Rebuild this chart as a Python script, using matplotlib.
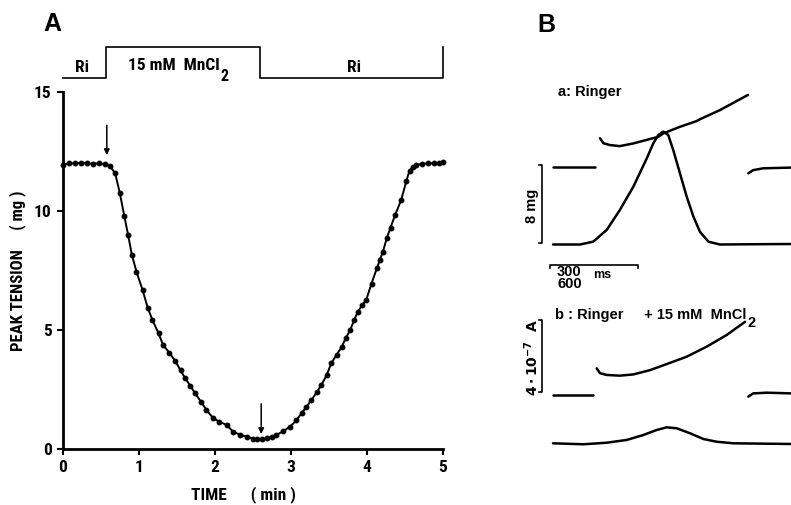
import matplotlib
matplotlib.use("Agg")
import matplotlib.pyplot as plt
from matplotlib import font_manager as fm

# ---------------- data: panel A (peak tension vs time) ----------------
time_min = [0.00, 0.08, 0.16, 0.24, 0.32, 0.40, 0.48, 0.56, 0.62,
            0.69, 0.75, 0.81, 0.86, 0.91, 0.97, 1.05, 1.12, 1.18, 1.26,
            1.32, 1.40, 1.48, 1.55, 1.61, 1.68, 1.74, 1.82, 1.89, 1.98,
            2.06, 2.155, 2.24, 2.33, 2.42, 2.50, 2.55, 2.62, 2.68, 2.75,
            2.81, 2.90, 2.99, 3.07, 3.14, 3.20, 3.27, 3.34, 3.40, 3.47,
            3.53, 3.60, 3.67, 3.72, 3.78, 3.83, 3.88, 3.94, 3.99, 4.06,
            4.13, 4.17, 4.21, 4.26, 4.31, 4.37, 4.45, 4.52, 4.56, 4.60,
            4.65, 4.72, 4.80, 4.88, 4.95, 5.00]
tension_mg = [11.95, 12.00, 12.00, 12.02, 12.00, 11.98, 12.00, 11.97, 11.90,
              11.58, 10.77, 9.79, 8.99, 8.15, 7.45, 6.68, 5.91, 5.42, 4.86,
              4.37, 4.05, 3.70, 3.30, 2.97, 2.65, 2.34, 1.98, 1.64, 1.29,
              1.15, 1.01, 0.73, 0.60, 0.52, 0.44, 0.41, 0.42, 0.45, 0.52,
              0.59, 0.75, 0.94, 1.20, 1.50, 1.75, 2.06, 2.38, 2.69, 3.10,
              3.60, 3.95, 4.30, 4.65, 5.00, 5.40, 5.77, 6.05, 6.26, 6.95,
              7.59, 7.95, 8.29, 8.85, 9.30, 9.83, 10.46, 11.28, 11.70, 11.85,
              11.93, 11.98, 12.00, 12.00, 12.02, 12.05]
x_ticks = [0, 1, 2, 3, 4, 5]
y_ticks = [0, 5, 10, 15]
mn_on, mn_off = 0.57, 2.60          # MnCl2 application (min)
arrow_times = [0.58, 2.61]

# ---------------- data: panel B (records) ----------------
# a: Ringer -- tension (mg above baseline)
fa_t = [0, 92, 137, 183, 228, 274, 320, 342, 359, 376, 393, 410, 433, 456, 479, 501, 530, 569, 700, 811]
fa_v = [0, 0, 0.29, 1.49, 3.54, 5.93, 8.85, 10.38, 11.23, 11.58, 11.23, 9.69, 7.29, 4.90,
        2.85, 1.31, 0.29, 0, 0.03, 0.05]
# a: Ringer -- membrane current (1e-7 A), three pieces
ca_left_t, ca_left_v = [0, 143], [0, 0]
ca_mid_t = [160, 172, 194, 228, 274, 320, 359, 376, 433, 490, 501, 569, 665]
ca_mid_v = [1.59, 1.31, 1.21, 1.15, 1.30, 1.50, 1.67, 1.86, 2.23, 2.55, 2.65, 3.16, 4.01]
ca_right_t, ca_right_v = [666, 683, 717, 811], [-0.37, -0.19, -0.09, -0.05]
# b: Ringer + 15 mM MnCl2 -- tension
fb_t = [0, 104, 183, 251, 308, 353, 388, 422, 468, 513, 558, 615, 811]
fb_v = [0, -0.10, 0.06, 0.34, 0.85, 1.36, 1.64, 1.54, 1.02, 0.44, 0.16, 0, -0.07]
# b: current
cb_left_t, cb_left_v = [0, 136], [0, 0]
cb_mid_t = [149, 160, 183, 228, 274, 331, 388, 456, 524, 592, 655]
cb_mid_v = [1.49, 1.22, 1.12, 1.08, 1.15, 1.39, 1.73, 2.14, 2.70, 3.35, 4.09]
cb_right_t, cb_right_v = [666, 683, 729, 811], [-0.09, 0.09, 0.13, 0.09]

# ---------------- fonts ----------------
names = {f.name for f in fm.fontManager.ttflist}
cond = None
for n in ["Liberation Sans Narrow", "DejaVu Sans Condensed", "Roboto Condensed",
          "Open Sans Condensed", "Noto Sans Condensed"]:
    if n in names:
        cond = n
        break
if cond:
    CK = dict(family=[cond, "DejaVu Sans"], fontweight="bold")
else:
    CK = dict(family=["DejaVu Sans"], fontstretch="condensed", fontweight="bold")
HK = dict(family=["Liberation Sans", "DejaVu Sans"], fontweight="bold")

W, H = 791, 505
fig = plt.figure(figsize=(W / 100, H / 100), dpi=100)


def P(px, py):
    return px / W, 1 - py / H


# ---------------- panel A ----------------
x0, x1, y0, y1 = 62.7, 443.0, 92.0, 449.0
axA = fig.add_axes([x0 / W, 1 - y1 / H, (x1 - x0) / W, (y1 - y0) / H])
axA.plot(time_min, tension_mg, "-o", color="k", lw=1.4, ms=3.2, clip_on=False)
axA.set_xlim(0, 5)
axA.set_ylim(0, 15)
for s in ("top", "right"):
    axA.spines[s].set_visible(False)
for s in ("left", "bottom"):
    axA.spines[s].set_linewidth(2.0)
axA.set_xticks(x_ticks)
axA.set_yticks(y_ticks)
axA.set_xticklabels([str(v) for v in x_ticks], **CK, fontsize=12.5)
axA.set_yticklabels([str(v) for v in y_ticks], **CK, fontsize=12.5)
axA.tick_params(axis="both", direction="out", length=4, width=1.5, pad=4)

# stimulus bar
lo, hi = 15.59, 16.89
axA.plot([0, mn_on, mn_on, mn_off, mn_off, 5, 5], [lo, lo, hi, hi, lo, lo, hi],
         color="k", lw=1.2, clip_on=False)
fig.text(*P(82, 67), "Ri", ha="center", va="center", fontsize=12.5, **CK)
t1 = fig.text(*P(128, 66), "15 mM  MnCl", ha="left", va="center", fontsize=12.5, **CK)
fig.text(*P(354, 67), "Ri", ha="center", va="center", fontsize=12.5, **CK)
axA.annotate("2", xy=(1, 0), xycoords=t1, xytext=(0.5, -2.0), textcoords="offset points",
             ha="left", va="center", fontsize=11.5, annotation_clip=False, **CK)

# arrows
axA.annotate("", xy=(arrow_times[0], 12.35), xytext=(arrow_times[0], 13.6),
             arrowprops=dict(arrowstyle="-|>", color="k", lw=1.1, mutation_scale=8,
                             shrinkA=0, shrinkB=0))
axA.annotate("", xy=(arrow_times[1], 0.63), xytext=(arrow_times[1], 1.9),
             arrowprops=dict(arrowstyle="-|>", color="k", lw=1.1, mutation_scale=8,
                             shrinkA=0, shrinkB=0))

fig.text(*P(18, 271), "PEAK TENSION     ( mg )", rotation=90, ha="center", va="center",
         fontsize=12, **CK)
fig.text(*P(243, 495), "TIME      ( min )", ha="center", va="center", fontsize=12.5, **CK)
fig.text(*P(43, 31), "A", ha="left", va="baseline", fontsize=18, **HK)

# ---------------- panel B ----------------
PX_MS = 3.41      # ms per pixel
PX_MG = 9.75      # pixels per mg
CUR_SCALE = 17.9 / PX_MG   # axis units per 1e-7 A
axB = fig.add_axes([500 / W, 0, 291 / W, 1])
axB.axis("off")
axB.set_xlim((500 - 553) * PX_MS, (791 - 553) * PX_MS)
axB.set_ylim(0, H / PX_MG)

FA0 = (H - 244.5) / PX_MG
CA0 = (H - 166.7) / PX_MG
FB0 = (H - 443.3) / PX_MG
CB0 = (H - 395.0) / PX_MG
kw = dict(color="k", lw=1.8, solid_capstyle="round", solid_joinstyle="round", clip_on=False)
axB.plot(fa_t, [FA0 + v for v in fa_v], **kw)
for tt, vv in ((ca_left_t, ca_left_v), (ca_mid_t, ca_mid_v), (ca_right_t, ca_right_v)):
    axB.plot(tt, [CA0 + CUR_SCALE * v for v in vv], **kw)
axB.plot(fb_t, [FB0 + v for v in fb_v], **kw)
for tt, vv in ((cb_left_t, cb_left_v), (cb_mid_t, cb_mid_v), (cb_right_t, cb_right_v)):
    axB.plot(tt, [CB0 + CUR_SCALE * v for v in vv], **kw)

# calibration bars
bx = (541.7 - 553) * PX_MS
tk = 3 * PX_MS
sk = dict(color="k", lw=1.2, clip_on=False)
axB.plot([bx - tk, bx, bx, bx - tk], [FA0 + 0.2, FA0 + 0.2, FA0 + 8.2, FA0 + 8.2], **sk)
axB.plot([bx - tk, bx, bx, bx - tk], [CB0 + 0.35, CB0 + 0.35, CB0 + 0.35 + 4 * CUR_SCALE,
                                      CB0 + 0.35 + 4 * CUR_SCALE], **sk)
hy = (H - 265) / PX_MG
axB.plot([-10, -10, 290, 290], [hy - 0.3, hy, hy, hy - 0.3], **sk)

fig.text(*P(558, 92), "a: Ringer", ha="left", va="center", fontsize=10.5, **HK)
t2 = fig.text(*P(555, 315), "b : Ringer     + 15 mM  MnCl", ha="left", va="center",
              fontsize=10.5, **HK)
axB.annotate("2", xy=(1, 0), xycoords=t2, xytext=(0.5, -1.0), textcoords="offset points",
             ha="left", va="center", fontsize=10.5, annotation_clip=False, **HK)
fig.text(*P(532, 206), "8 mg", rotation=90, ha="center", va="center", fontsize=10.5, **HK)
fig.text(*P(532, 358), r"$\mathbf{4\cdot10^{-7}\ \ A}$", rotation=90, ha="center",
         va="center", fontsize=10, **HK)
fig.text(*P(557, 278), "300\n600", ha="left", va="center", fontsize=10.5,
         linespacing=0.82, **HK)
fig.text(*P(593, 275), "ms", ha="left", va="center", fontsize=9, **HK)
fig.text(*P(537, 32), "B", ha="left", va="baseline", fontsize=18, **HK)

fig.savefig("out.png", dpi=100)
